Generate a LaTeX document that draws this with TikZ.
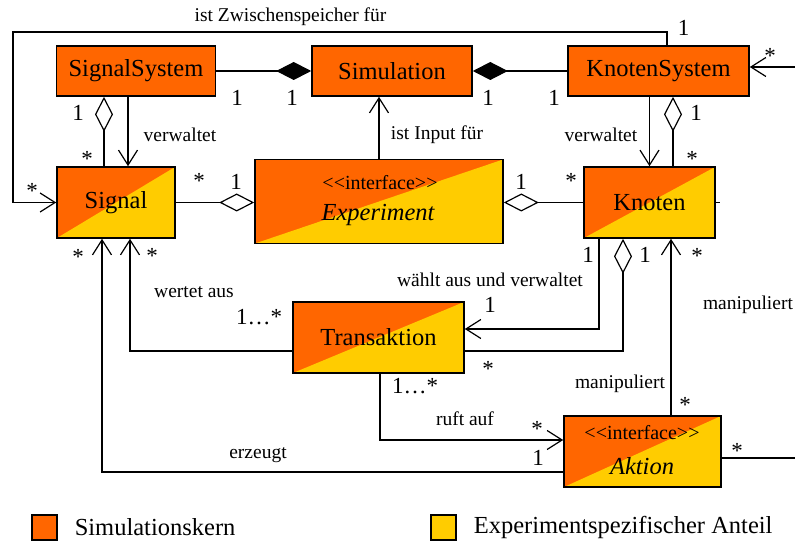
\documentclass[tikz,border=0pt]{standalone}
\usepackage{fontspec}
\setmainfont{Liberation Serif}
\usetikzlibrary{arrows.meta}
\definecolor{korange}{HTML}{FF6600}
\definecolor{kyellow}{HTML}{FFCC00}
\begin{document}
\begin{tikzpicture}[x=1pt,y=-1pt,
  box/.style={draw,line width=1.6pt,fill=korange,inner sep=0pt,
    font=\fontsize{24.5}{28}\selectfont},
  split/.style={path picture={\fill[kyellow] (path picture bounding box.south west)
      -- (path picture bounding box.north east) -- (path picture bounding box.south east) -- cycle;}},
  lab/.style={inner sep=0pt,font=\fontsize{19.5}{22}\selectfont},
  iface/.style={inner sep=0pt,font=\fontsize{20}{22}\selectfont},
  mult/.style={inner sep=0pt,font=\fontsize{23}{26}\selectfont},
  conn/.style={line width=1.2pt},
  opena/.style={conn,-{Straight Barb[length=15pt,width=19pt]}},
  comp/.style={conn,-{Diamond[length=35pt,width=18pt]}},
  aggr/.style={conn,-{Diamond[open,length=35pt,width=18pt,fill=white]}},
  legbox/.style={draw,line width=1.4pt,minimum width=25pt,minimum height=25pt,inner sep=0pt}
]
\useasboundingbox (0,0) rectangle (795,545);

% boxes
\node[box,minimum width=159pt,minimum height=50pt] (SS) at (136,71) {SignalSystem};
\node[box,minimum width=160pt,minimum height=50pt] (Sim) at (392,71) {Simulation};
\node[box,minimum width=181pt,minimum height=50pt] (KS) at (658.5,71) {KnotenSystem};
\node[box,split,minimum width=118pt,minimum height=71pt] (Sig) at (116,202.5) {Signal};
\node[box,split,minimum width=248pt,minimum height=84pt] (Exp) at (379,201.5) {};
\node[iface] (ExpI) at (380,183) {<{}<interface>{}>};
\node[box,draw=none,fill=none] (ExpN) at (378,215) {\itshape Experiment};
\node[box,split,minimum width=131pt,minimum height=71pt] (Kn) at (649.5,202.5) {Knoten};
\node[box,split,minimum width=171pt,minimum height=71pt] (Tr) at (378.5,337.5) {Transaktion};
\node[box,split,minimum width=157pt,minimum height=71pt] (Ak) at (642.5,451.5) {};
\node[iface] (AkI) at (642,433) {<{}<interface>{}>};
\node[box,draw=none,fill=none] (AkN) at (642,466) {\itshape Aktion};

% free ends
\coordinate (r1) at (795,67);
\coordinate (r2) at (795,458);
\coordinate (top) at (13,32);

% connectors
\draw[opena] ([xshift=8.5pt]KS.north) |- (top) |- (Sig.west);
\draw[comp] (SS.east) -- (Sim.west);
\draw[comp] (KS.west) -- (Sim.east);
\draw[aggr] ([xshift=-12pt]Sig.north) -- ([xshift=-32pt]SS.south);
\draw[opena] ([xshift=-8pt]SS.south) -- ([xshift=12pt]Sig.north);
\draw[opena] (Exp.north) -- (Exp.north |- Sim.south);
\draw[aggr] (Sig.east) -- (Sig.east -| Exp.west);
\draw[aggr] (Kn.west) -- (Kn.west -| Exp.east);
\draw[opena] (Kn.north |- KS.south) -- (Kn.north);
\draw[aggr] ([xshift=23.5pt]Kn.north) -- ([xshift=14.5pt]KS.south);
\draw[opena] (r1) -- (r1 -| KS.east);
\draw[conn] (Ak.east |- r2) -- (r2);
\draw[conn] (Kn.east) -- ++(4,0);
\draw[opena] ([xshift=-50.5pt]Kn.south) |- ([yshift=8.5pt]Tr.east);
\draw[aggr] ([yshift=-13.5pt]Tr.east) -| ([xshift=-26.5pt]Kn.south);
\draw[opena] ([xshift=28.5pt]Ak.north) -- ([xshift=21.5pt]Kn.south);
\draw[opena] ([xshift=1.5pt]Tr.south) |- ([yshift=11.5pt]Ak.west);
\draw[opena] ([yshift=-20.5pt]Ak.west) -| ([xshift=-14pt]Sig.south);
\draw[opena] ([yshift=-13.5pt]Tr.west) -| ([xshift=14pt]Sig.south);

% labels
\node[lab] (l1) at (290.5,17) {ist Zwischenspeicher für};
\node[lab] (l2) at (180,135) {verwaltet};
\node[lab] (l3) at (601,135) {verwaltet};
\node[lab] (l4) at (437,135) {ist Input für};
\node[lab] (l5) at (490,280) {wählt aus und verwaltet};
\node[lab] (l6) at (194,292) {wertet aus};
\node[lab] (l7) at (748,305) {manipuliert};
\node[lab] (l8) at (620,384) {manipuliert};
\node[lab] (l9) at (465,419) {ruft auf};
\node[lab] (l10) at (258,455) {erzeugt};

% multiplicities
\node[mult] (m1) at (683.5,27.5) {1};
\node[mult] (m2) at (32,191) {*};
\node[mult] (m3) at (237,98) {1};
\node[mult] (m4) at (292,98) {1};
\node[mult] (m5) at (488,98) {1};
\node[mult] (m6) at (554,98) {1};
\node[mult] (m7) at (78,113) {1};
\node[mult] (m8) at (87,159) {*};
\node[mult] (m9) at (199,181) {*};
\node[mult] (m10) at (236,182) {1};
\node[mult] (m11) at (521,182) {1};
\node[mult] (m12) at (571,181) {*};
\node[mult] (m13) at (696,113) {1};
\node[mult] (m14) at (692,159) {*};
\node[mult] (m15) at (78,257) {*};
\node[mult] (m16) at (152,256) {*};
\node[mult] (m17) at (259,317) {1…*};
\node[mult] (m18) at (588,255) {1};
\node[mult] (m19) at (645,255) {1};
\node[mult] (m20) at (697,256) {*};
\node[mult] (m21) at (490,305) {1};
\node[mult] (m22) at (488,369) {*};
\node[mult] (m23) at (415,386) {1…*};
\node[mult] (m24) at (685,405) {*};
\node[mult] (m25) at (537,429) {*};
\node[mult] (m26) at (538,458) {1};
\node[mult] (m27) at (737,451) {*};
\node[mult] (m28) at (770,56) {*};

% legend
\node[legbox,fill=korange] (lg1) at (44.5,527.5) {};
\node[box,draw=none,fill=none,anchor=west] (lt1) at (74,527.5) {Simulationskern};
\node[legbox,fill=kyellow] (lg2) at (443.5,527.5) {};
\node[box,draw=none,fill=none,anchor=west] (lt2) at (473,527.5) {Experimentspezifischer Anteil};
\end{tikzpicture}
\end{document}
